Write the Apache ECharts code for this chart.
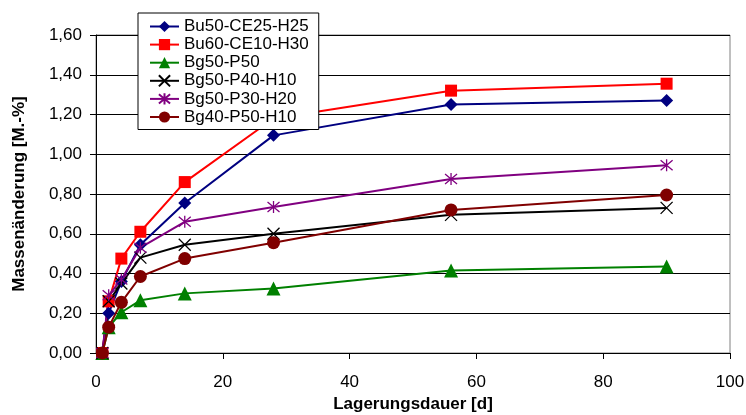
<!DOCTYPE html>
<html>
<head>
<meta charset="utf-8">
<script src="https://cdn.jsdelivr.net/npm/echarts@6/dist/echarts.min.js"></script>
<style>
  html, body { margin: 0; padding: 0; background: #fff; }
  #chart { width: 746px; height: 415px; }
</style>
</head>
<body>
<div id="chart"></div>
<script>
// Storage duration in days
const days = [1, 2, 4, 7, 14, 28, 56, 90];

// Mass change in M.-% per mixture
const bu50ce25h25 = [0, 0.20, 0.36, 0.545, 0.755, 1.095, 1.25, 1.27];
const bu60ce10h30 = [0, 0.26, 0.475, 0.61, 0.86, 1.18, 1.32, 1.355];
const bg50p50     = [0, 0.13, 0.205, 0.265, 0.30, 0.325, 0.415, 0.435];
const bg50p40h10  = [0, 0.26, 0.35, 0.48, 0.545, 0.60, 0.695, 0.73];
const bg50p30h20  = [0, 0.29, 0.37, 0.53, 0.66, 0.735, 0.875, 0.945];
const bg40p50h10  = [0, 0.13, 0.255, 0.385, 0.475, 0.555, 0.72, 0.795];

const seriesNames = ['Bu50-CE25-H25', 'Bu60-CE10-H30', 'Bg50-P50', 'Bg50-P40-H10', 'Bg50-P30-H20', 'Bg40-P50-H10'];

const xTicks = { min: 0, max: 100, step: 20 };
const yTicks = { min: 0, max: 1.6, step: 0.2 };

const FONT = 'Liberation Sans, Arial, sans-serif';

const crossPath = 'path://M0,0L10,10M10,0L0,10';
const asteriskPath = 'path://M0,0L10,10M10,0L0,10M5,-1L5,11';

function pairs(values) {
  return days.map((d, i) => [d, values[i]]);
}

function lineSeries(name, values, color, symbol, size, stroked) {
  return {
    name: name,
    type: 'line',
    data: pairs(values),
    symbol: symbol,
    symbolSize: size,
    showAllSymbol: true,
    lineStyle: { color: color, width: 2 },
    itemStyle: stroked
      ? { color: 'rgba(0,0,0,0)', borderColor: color, borderWidth: 1.3 }
      : { color: color, borderColor: color, borderWidth: 0 },
    emphasis: { disabled: true },
    animation: false
  };
}

const chart = echarts.init(document.getElementById('chart'));
chart.setOption({
  backgroundColor: '#ffffff',
  animation: false,
  grid: {
    left: 96, right: 16, top: 35, bottom: 62,
    containLabel: false,
    outerBoundsMode: 'none',
    show: true, borderColor: '#808080', borderWidth: 1, backgroundColor: '#ffffff'
  },
  legend: {
    orient: 'vertical',
    left: 138,
    top: 13,
    padding: [5, 10, 4, 11],
    itemGap: 1.1,
    itemWidth: 29,
    itemHeight: 14,
    backgroundColor: '#ffffff',
    borderColor: '#000000',
    borderWidth: 1,
    borderRadius: 0,
    data: seriesNames,
    textStyle: { fontFamily: FONT, fontSize: 17, color: '#000' }
  },
  xAxis: {
    type: 'value',
    min: xTicks.min,
    max: xTicks.max,
    interval: xTicks.step,
    name: 'Lagerungsdauer [d]',
    nameLocation: 'middle',
    nameGap: 42,
    nameTextStyle: { fontFamily: FONT, fontSize: 17, fontWeight: 'bold', color: '#000' },
    axisLine: { lineStyle: { color: '#000', width: 1 } },
    axisTick: { show: true, inside: false, length: 6, lineStyle: { color: '#000' } },
    axisLabel: { fontFamily: FONT, fontSize: 17, color: '#000', margin: 21 },
    splitLine: { show: false }
  },
  yAxis: {
    type: 'value',
    min: yTicks.min,
    max: yTicks.max,
    interval: yTicks.step,
    name: 'Massenänderung [M.-%]',
    nameLocation: 'middle',
    nameGap: 68,
    nameRotate: 90,
    nameTextStyle: { fontFamily: FONT, fontSize: 17, fontWeight: 'bold', color: '#000' },
    axisLine: { show: true, lineStyle: { color: '#000', width: 1 } },
    axisTick: { show: true, inside: false, length: 6, lineStyle: { color: '#000' } },
    axisLabel: {
      fontFamily: FONT, fontSize: 17, color: '#000', margin: 14,
      formatter: v => v.toFixed(2).replace('.', ',')
    },
    splitLine: { show: true, lineStyle: { color: '#000', width: 1 } }
  },
  series: [
    lineSeries(seriesNames[0], bu50ce25h25, '#000080', 'diamond', [13, 13], false),
    lineSeries(seriesNames[1], bu60ce10h30, '#ff0000', 'rect', 12, false),
    lineSeries(seriesNames[2], bg50p50, '#008000', 'triangle', 14, false),
    lineSeries(seriesNames[3], bg50p40h10, '#000000', crossPath, 12, true),
    lineSeries(seriesNames[4], bg50p30h20, '#800080', asteriskPath, 12, true),
    lineSeries(seriesNames[5], bg40p50h10, '#800000', 'circle', 13, false)
  ]
});
</script>
</body>
</html>
